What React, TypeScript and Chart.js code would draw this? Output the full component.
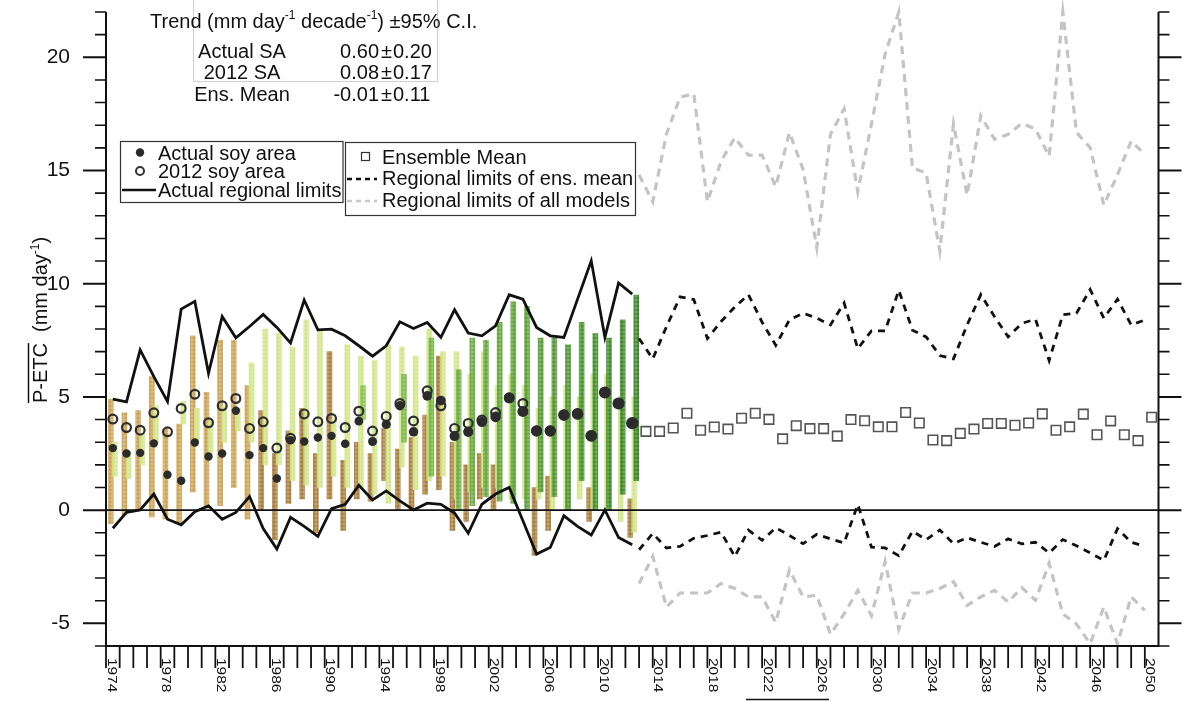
import { useEffect, useRef } from "react";
import { Chart, registerables } from "chart.js";

Chart.register(...registerables);

const FONT = '"Liberation Sans", Arial, Helvetica, sans-serif';

// ---- Observed period (1974-2012) ----
const obsYears = [
  1974, 1975, 1976, 1977, 1978, 1979, 1980, 1981, 1982, 1983, 1984, 1985, 1986,
  1987, 1988, 1989, 1990, 1991, 1992, 1993, 1994, 1995, 1996, 1997, 1998, 1999,
  2000, 2001, 2002, 2003, 2004, 2005, 2006, 2007, 2008, 2009, 2010, 2011, 2012,
];

// Regional mean P-ETC with the actual soy area of each year
const actualSoyArea = [
  2.74, 2.5, 2.53, 2.95, 1.56, 1.3, 2.99, 2.37, 2.5, 4.39, 2.43, 2.74, 1.4,
  3.09, 3.03, 3.21, 3.28, 2.93, 3.93, 3.03, 3.78, 4.61, 3.46, 5.05, 4.84, 3.27,
  3.46, 3.9, 4.12, 4.96, 4.36, 3.5, 3.5, 4.2, 4.25, 3.28, 5.2, 4.71, 3.84,
];

// Regional mean P-ETC with the 2012 soy area held fixed
const soy2012Area = [
  4.02, 3.65, 3.53, 4.3, 3.46, 4.49, 5.12, 3.86, 4.61, 4.93, 3.61, 3.9, 2.74,
  3.17, 4.25, 3.9, 4.05, 3.65, 4.37, 3.49, 4.14, 4.71, 3.94, 5.27, 4.61, 3.61,
  3.83, 3.98, 4.31, 4.96, 4.71, 3.5, 3.5, 4.2, 4.25, 3.28, 5.2, 4.71, 3.84,
];

// Highest / lowest grid cell of the region
const actualUpper = [
  4.9, 4.78, 7.08, 5.9, 4.8, 8.88, 9.22, 6.04, 8.55, 7.61, 8.11, 8.64, 8.07,
  7.38, 9.28, 7.96, 7.99, 7.7, 7.26, 6.8, 7.26, 8.32, 8.02, 8.29, 7.63, 8.85,
  7.82, 7.7, 8.14, 9.51, 9.32, 8.07, 7.7, 7.63, 9.32, 11.01, 7.63, 10.03, 9.54,
];
const actualLower = [
  -0.8, -0.1, 0.01, 0.71, -0.4, -0.65, -0.07, 0.19, -0.4, -0.1, 0.6, -0.81,
  -1.72, -0.32, -0.72, -1.16, 0.07, 0.26, 1.1, 0.45, 0.85, 0.41, 0.01, 0.31,
  0.26, -0.13, -1.02, 0.26, 0.71, 1.0, -0.47, -1.94, -1.65, -0.25, -0.72, -1.1,
  0.01, -1.21, -1.53,
];

// Grid-cell spread per year: tan (low soy fraction), pale green, green (high soy fraction)
const tanLow = [
  -0.6, -0.2, 0.0, -0.3, -0.4, -0.6, 0.8, 0.1, 0.2, 1.0, -0.4, 0.0, -1.3, 0.3,
  0.5, -1.0, 0.5, -0.9, 0.5, 0.4, 1.3, 0.0, 0.0, 0.7, 0.9, -0.9, -0.5, 0.5, 0.0,
  null, null, -2.0, -0.9, null, null, -0.5, null, null, -1.2,
];
const tanHigh = [
  4.9, 4.3, 4.4, 5.9, 3.6, 3.8, 7.7, 5.2, 7.5, 7.5, 5.5, 4.4, 2.5, 3.5, 4.5,
  2.5, 7.0, 2.2, 3.0, 2.5, 3.6, 2.7, 3.2, 4.2, 6.8, 3.0, 2.0, 2.5, 2.0, null,
  null, 1.0, 1.5, null, null, 1.0, null, null, 0.5,
];
const paleLow = [
  1.5, 1.4, 2.0, 3.0, null, 3.8, 3.1, 2.5, 3.0, 3.5, 3.0, 2.0, 2.0, 1.3, 1.1,
  1.0, 1.5, 1.0, 1.0, 0.7, 0.3, 1.9, 0.9, 1.3, 1.5, 0.5, 0.8, 1.0, 1.0, 0.5,
  0.5, 0.5, 0.0, 0.0, 0.5, 0.0, 0.0, -0.5, -1.0,
];
const paleHigh = [
  3.0, 2.6, 3.4, 4.6, null, 4.8, 4.5, 4.0, 4.6, 4.5, 6.5, 8.0, 7.8, 7.2, 8.4,
  7.9, 4.0, 7.3, 6.8, 6.6, 7.3, 7.2, 6.8, 8.0, 7.0, 7.0, 6.0, 7.0, 5.5, 6.0,
  5.5, 4.5, 5.0, 5.5, 5.0, 6.0, 6.0, 5.0, 5.0,
];
const greenLow = [
  null, null, null, null, null, null, null, null, null, null, null, null, null,
  null, null, null, null, null, 4.0, null, null, 3.0, null, 1.5, null, 0.0,
  0.2, 0.6, 0.4, 0.3, 0.0, 0.8, 0.6, 0.0, 1.3, 0.0, 0.0, 0.7, 1.3,
];
const greenHigh = [
  null, null, null, null, null, null, null, null, null, null, null, null, null,
  null, null, null, null, null, 5.5, null, null, 6.0, null, 7.6, null, 6.2,
  7.6, 7.5, 8.3, 9.2, 9.0, 7.6, 7.6, 7.3, 8.3, 7.8, 7.6, 8.4, 9.5,
];

// ---- Model period (2013-2050) ----
const modelYears = [
  2013, 2014, 2015, 2016, 2017, 2018, 2019, 2020, 2021, 2022, 2023, 2024, 2025,
  2026, 2027, 2028, 2029, 2030, 2031, 2032, 2033, 2034, 2035, 2036, 2037, 2038,
  2039, 2040, 2041, 2042, 2043, 2044, 2045, 2046, 2047, 2048, 2049, 2050,
];
const ensMean = [
  3.48, 3.48, 3.63, 4.28, 3.53, 3.67, 3.58, 4.06, 4.28, 4.01, 3.15, 3.73, 3.6,
  3.6, 3.27, 4.0, 3.95, 3.68, 3.68, 4.31, 3.85, 3.1, 3.07, 3.39, 3.58, 3.83,
  3.83, 3.75, 3.85, 4.25, 3.53, 3.68, 4.24, 3.33, 3.94, 3.33, 3.07, 4.1,
];
const ensUpper = [
  7.58, 6.68, 8.1, 9.42, 9.3, 7.58, 8.33, 8.97, 9.52, 8.3, 7.28, 8.4, 8.7, 8.48,
  8.18, 9.15, 7.13, 7.92, 7.92, 9.71, 7.95, 7.65, 6.83, 6.68, 8.18, 9.52, 8.55,
  7.65, 8.25, 8.43, 6.61, 8.63, 8.7, 9.74, 8.48, 9.32, 8.18, 8.4,
];
const ensLower = [
  -1.75, -1.03, -1.67, -1.6, -1.24, -1.12, -0.97, -2.05, -0.88, -1.33, -0.78,
  -1.12, -1.48, -1.07, -1.27, -1.45, 0.25, -1.63, -1.67, -2.01, -0.93, -1.3,
  -0.88, -1.48, -1.22, -1.42, -1.6, -1.27, -1.49, -1.42, -1.89, -1.3, -1.57,
  -1.89, -2.22, -0.82, -1.42, -1.6,
];
const allUpper = [
  14.81, 13.62, 16.6, 18.24, 18.39, 13.62, 15.41, 16.45, 15.68, 15.68, 14.29,
  16.68, 15.04, 11.6, 16.6, 17.72, 14.06, 17.05, 20.14, 22.0, 15.11, 14.89,
  11.45, 17.05, 13.91, 17.42, 16.38, 16.6, 17.08, 16.83, 15.63, 22.0, 16.68,
  16.01, 13.47, 14.81, 16.3, 15.71,
];
const allLower = [
  -3.24, -2.05, -4.28, -3.66, -3.66, -3.66, -3.24, -3.46, -3.83, -3.83, -4.96,
  -2.64, -3.83, -3.76, -5.48, -4.58, -3.54, -4.66, -2.27, -5.25, -3.66, -3.66,
  -3.46, -3.16, -4.21, -3.83, -3.54, -4.06, -3.42, -3.98, -2.35, -4.58, -5.03,
  -5.9, -4.28, -5.9, -3.83, -4.43,
];

// ---- Axis ticks and labels ----
const xTickYears = [
  1974, 1978, 1982, 1986, 1990, 1994, 1998, 2002, 2006, 2010, 2014, 2018, 2022,
  2026, 2030, 2034, 2038, 2042, 2046, 2050,
];
const yMajorTicks = [-5, 0, 5, 10, 15, 20];

// ---- Trend table ----
const trendNames = ["Actual SA", "2012 SA", "Ens. Mean"];
const trendSlopes = ["0.60", "0.08", "-0.01"];
const trendErrors = ["0.20", "0.17", "0.11"];

const tanShade = (yr: number) => (yr < 1985 ? "rgb(204,164,86)" : "rgb(170,126,60)");
const paleShade = "rgb(210,231,138)";
const greenShade = (yr: number) => {
  const t = Math.min(1, Math.max(0, (yr - 1992) / 20));
  const r = Math.round(140 + (58 - 140) * t);
  const g = Math.round(196 + (134 - 196) * t);
  const b = Math.round(82 + (40 - 82) * t);
  return `rgb(${r},${g},${b})`;
};

// grainy dot texture used to fill the grid-cell strips
const patternCache: Record<string, CanvasPattern | string> = {};
function dotted(ctx: CanvasRenderingContext2D, color: string) {
  if (patternCache[color]) return patternCache[color];
  const tile = document.createElement("canvas");
  tile.width = 4;
  tile.height = 4;
  const t = tile.getContext("2d")!;
  t.fillStyle = color;
  t.globalAlpha = 0.7;
  t.fillRect(0, 0, 4, 4);
  t.globalAlpha = 1;
  t.beginPath();
  t.arc(2, 2, 1.7, 0, Math.PI * 2);
  t.fill();
  const p = ctx.createPattern(tile, "repeat") || color;
  patternCache[color] = p;
  return p;
}

type Run = { text: string; sup?: boolean };

function drawRuns(ctx: CanvasRenderingContext2D, runs: Run[], x: number, y: number, size: number) {
  let cx = x;
  for (const r of runs) {
    ctx.font = `${r.sup ? Math.round(size * 0.6) : size}px ${FONT}`;
    ctx.fillText(r.text, cx, r.sup ? y - size * 0.42 : y);
    cx += ctx.measureText(r.text).width;
  }
  return cx;
}

function runsWidth(ctx: CanvasRenderingContext2D, runs: Run[], size: number) {
  let w = 0;
  for (const r of runs) {
    ctx.font = `${r.sup ? Math.round(size * 0.6) : size}px ${FONT}`;
    w += ctx.measureText(r.text).width;
  }
  return w;
}

const decor = {
  id: "decor",
  afterDatasetsDraw(chart: any) {
    const { ctx, chartArea: a, scales } = chart;
    const y0 = scales.y.getPixelForValue(0);
    ctx.save();
    ctx.strokeStyle = "#111";
    ctx.lineWidth = 1.6;
    ctx.beginPath();
    ctx.moveTo(a.left, y0);
    ctx.lineTo(a.right, y0);
    ctx.stroke();
    ctx.restore();
  },
  afterDraw(chart: any) {
    const { ctx, chartArea: a, scales } = chart;
    const xs = scales.x;
    const ys = scales.y;
    ctx.save();
    ctx.strokeStyle = "#111";
    ctx.fillStyle = "#111";
    ctx.lineCap = "butt";

    // frame: left, right and bottom axes
    ctx.lineWidth = 2;
    ctx.beginPath();
    ctx.moveTo(a.left, a.top);
    ctx.lineTo(a.left, a.bottom);
    ctx.lineTo(a.right, a.bottom);
    ctx.lineTo(a.right, a.top);
    ctx.stroke();

    // y ticks on both sides, major every 5, minor every 1
    for (let v = -6; v <= 22; v++) {
      const py = ys.getPixelForValue(v);
      const major = v % 5 === 0;
      const len = major ? 23 : 11;
      ctx.lineWidth = major ? 2 : 1.6;
      ctx.beginPath();
      ctx.moveTo(a.left - len, py);
      ctx.lineTo(a.left, py);
      ctx.moveTo(a.right, py);
      ctx.lineTo(a.right + len, py);
      ctx.stroke();
    }
    ctx.font = `21px ${FONT}`;
    ctx.textAlign = "right";
    ctx.textBaseline = "middle";
    for (const v of yMajorTicks) {
      ctx.fillText(String(v), 70, ys.getPixelForValue(v));
    }

    // x ticks at the start of every year
    ctx.lineWidth = 1.8;
    for (let yr = obsYears[0]; yr <= modelYears[modelYears.length - 1]; yr++) {
      const px = xs.getPixelForValue(yr - 0.5);
      ctx.beginPath();
      ctx.moveTo(px, a.bottom);
      ctx.lineTo(px, a.bottom + 22);
      ctx.stroke();
    }
    ctx.textAlign = "left";
    ctx.textBaseline = "alphabetic";
    ctx.font = `15.5px ${FONT}`;
    for (const yr of xTickYears) {
      const px = xs.getPixelForValue(yr - 0.5);
      ctx.save();
      ctx.translate(px + 1.5, a.bottom + 12);
      ctx.rotate(Math.PI / 2);
      ctx.scale(1, 0.8);
      ctx.fillText(String(yr), 0, 0);
      ctx.restore();
    }

    // y axis title with overline on P-ETC
    const titleRuns: Run[] = [
      { text: "P-ETC" },
      { text: "  (mm day" },
      { text: "-1", sup: true },
      { text: ")" },
    ];
    const tw = runsWidth(ctx, titleRuns, 20);
    ctx.save();
    ctx.translate(47, 320);
    ctx.rotate(-Math.PI / 2);
    const sx = -tw / 2;
    drawRuns(ctx, titleRuns, sx, 0, 20);
    ctx.font = `20px ${FONT}`;
    const pw = ctx.measureText("P-ETC").width;
    ctx.lineWidth = 1.5;
    ctx.beginPath();
    ctx.moveTo(sx, -18.5);
    ctx.lineTo(sx + pw, -18.5);
    ctx.stroke();
    ctx.restore();

    // trend table
    ctx.strokeStyle = "#cfcfcf";
    ctx.lineWidth = 1;
    ctx.strokeRect(193.5, -2, 244, 83.5);
    ctx.fillStyle = "#111";
    ctx.textAlign = "left";
    drawRuns(
      ctx,
      [
        { text: "Trend (mm day" },
        { text: "-1", sup: true },
        { text: " decade" },
        { text: "-1", sup: true },
        { text: ") \u00b195% C.I." },
      ],
      150,
      27.5,
      20
    );
    ctx.font = `20px ${FONT}`;
    const rowBase = [57.5, 79, 101];
    trendNames.forEach((name, i) => {
      ctx.textAlign = "center";
      ctx.fillText(name, 242, rowBase[i]);
      ctx.textAlign = "right";
      ctx.fillText(trendSlopes[i], 379, rowBase[i]);
      ctx.textAlign = "center";
      ctx.fillText("\u00b1", 386.5, rowBase[i]);
      ctx.textAlign = "left";
      ctx.fillText(trendErrors[i], 393, rowBase[i]);
    });

    // legend: observations
    ctx.strokeStyle = "#333";
    ctx.lineWidth = 1.2;
    ctx.strokeRect(120.5, 141.5, 222.5, 61);
    ctx.fillStyle = "#2a2a2a";
    ctx.beginPath();
    ctx.arc(140, 152.5, 4.2, 0, Math.PI * 2);
    ctx.fill();
    ctx.lineWidth = 2;
    ctx.beginPath();
    ctx.arc(140, 171, 4, 0, Math.PI * 2);
    ctx.stroke();
    ctx.strokeStyle = "#111";
    ctx.lineWidth = 2.6;
    ctx.beginPath();
    ctx.moveTo(122, 190);
    ctx.lineTo(156, 190);
    ctx.stroke();
    ctx.fillStyle = "#111";
    ctx.textAlign = "left";
    ctx.font = `20px ${FONT}`;
    ctx.fillText("Actual soy area", 158, 159.5);
    ctx.fillText("2012 soy area", 158, 178);
    ctx.fillText("Actual regional limits", 158, 197);

    // legend: models
    ctx.strokeStyle = "#333";
    ctx.lineWidth = 1.2;
    ctx.strokeRect(345.5, 142.5, 290, 73);
    ctx.strokeRect(361.5, 152.5, 8, 8);
    ctx.lineWidth = 2.6;
    ctx.setLineDash([5, 4]);
    ctx.strokeStyle = "#111";
    ctx.beginPath();
    ctx.moveTo(347, 179);
    ctx.lineTo(377, 179);
    ctx.stroke();
    ctx.strokeStyle = "#c8c8c8";
    ctx.beginPath();
    ctx.moveTo(347, 201);
    ctx.lineTo(377, 201);
    ctx.stroke();
    ctx.setLineDash([]);
    ctx.fillText("Ensemble Mean", 382, 163.5);
    ctx.fillText("Regional limits of ens. mean", 382, 185);
    ctx.fillText("Regional limits of all models", 382, 206.5);

    // short rule under the axis labels
    ctx.strokeStyle = "#111";
    ctx.lineWidth = 1.5;
    ctx.beginPath();
    ctx.moveTo(746, 699.5);
    ctx.lineTo(829, 699.5);
    ctx.stroke();
    ctx.restore();
  },
};

export default function App() {
  const ref = useRef<HTMLCanvasElement>(null);

  useEffect(() => {
    const canvas = ref.current;
    if (!canvas) return;
    const ctx2d = canvas.getContext("2d")!;

    const strip = (lows: (number | null)[], highs: (number | null)[], dx: number) =>
      obsYears
        .map((yr, i) =>
          lows[i] == null || highs[i] == null ? null : { x: yr + dx, y: [lows[i], highs[i]], yr }
        )
        .filter(Boolean) as any[];

    const tanStrip = strip(tanLow, tanHigh, -0.15);
    const paleStrip = strip(paleLow, paleHigh, 0.15);
    const greenStrip = strip(greenLow, greenHigh, 0.3);

    const obs = (vals: number[]) => obsYears.map((yr, i) => ({ x: yr, y: vals[i] }));
    // model limit lines are anchored at the start of each model year
    const limits = (vals: number[]) => modelYears.map((yr, i) => ({ x: yr - 0.5, y: vals[i] }));

    const chart = new Chart(canvas, {
      type: "scatter",
      data: {
        datasets: [
          {
            type: "bar",
            data: tanStrip,
            backgroundColor: tanStrip.map((d) => dotted(ctx2d, tanShade(d.yr))),
            barThickness: 5,
            grouped: false,
            borderWidth: 0,
            order: 12,
          } as any,
          {
            type: "bar",
            data: paleStrip,
            backgroundColor: paleStrip.map(() => dotted(ctx2d, paleShade)),
            barThickness: 5,
            grouped: false,
            borderWidth: 0,
            order: 11,
          } as any,
          {
            type: "bar",
            data: greenStrip,
            backgroundColor: greenStrip.map((d) => dotted(ctx2d, greenShade(d.yr))),
            barThickness: 5,
            grouped: false,
            borderWidth: 0,
            order: 10,
          } as any,
          {
            type: "line",
            data: limits(allUpper),
            borderColor: "#c4c4c4",
            borderWidth: 3.2,
            borderDash: [8, 6],
            pointRadius: 0,
            clip: false,
            order: 7,
          },
          {
            type: "line",
            data: limits(allLower),
            borderColor: "#c4c4c4",
            borderWidth: 3.2,
            borderDash: [8, 6],
            pointRadius: 0,
            clip: false,
            order: 7,
          },
          {
            type: "line",
            data: limits(ensUpper),
            borderColor: "#111",
            borderWidth: 2.8,
            borderDash: [7, 6],
            pointRadius: 0,
            clip: false,
            order: 6,
          },
          {
            type: "line",
            data: limits(ensLower),
            borderColor: "#111",
            borderWidth: 2.8,
            borderDash: [7, 6],
            pointRadius: 0,
            clip: false,
            order: 6,
          },
          {
            type: "line",
            data: obs(actualUpper),
            borderColor: "#111",
            borderWidth: 2.8,
            pointRadius: 0,
            clip: false,
            order: 5,
          },
          {
            type: "line",
            data: obs(actualLower),
            borderColor: "#111",
            borderWidth: 2.8,
            pointRadius: 0,
            clip: false,
            order: 5,
          },
          {
            type: "line",
            data: modelYears.map((yr, i) => ({ x: yr, y: ensMean[i] })),
            showLine: false,
            pointStyle: "rect",
            pointRadius: 6.7,
            pointBorderWidth: 1.6,
            pointBorderColor: "#555",
            pointBackgroundColor: "rgba(255,255,255,0)",
            order: 4,
          },
          {
            type: "line",
            data: obs(soy2012Area),
            showLine: false,
            pointStyle: "circle",
            pointRadius: 4.4,
            pointBorderWidth: 2.2,
            pointBorderColor: "#2e2e2e",
            pointBackgroundColor: "rgba(255,255,255,0)",
            order: 3,
          },
          {
            type: "line",
            data: obs(actualSoyArea),
            showLine: false,
            pointStyle: "circle",
            pointRadius: (c: any) => 4.2 + Math.max(0, obsYears[c.dataIndex] - 1990) * 0.09,
            pointBorderWidth: 0,
            pointBackgroundColor: "#2b2b2b",
            order: 2,
          },
        ],
      },
      options: {
        animation: false,
        responsive: false,
        events: [],
        layout: { padding: { left: 106, right: 30.5, top: 12, bottom: 55 } },
        scales: {
          x: { type: "linear", min: 1973.5, max: 2050.5, offset: false, display: false },
          y: { type: "linear", min: -6, max: 22, display: false },
        },
        plugins: { legend: { display: false }, tooltip: { enabled: false } },
      },
      plugins: [decor],
    } as any);

    return () => chart.destroy();
  }, []);

  return (
    <div style={{ position: "absolute", left: 0, top: 0, width: 1189, height: 701, background: "#fff" }}>
      <canvas ref={ref} width={1189} height={701} style={{ display: "block" }} />
    </div>
  );
}
